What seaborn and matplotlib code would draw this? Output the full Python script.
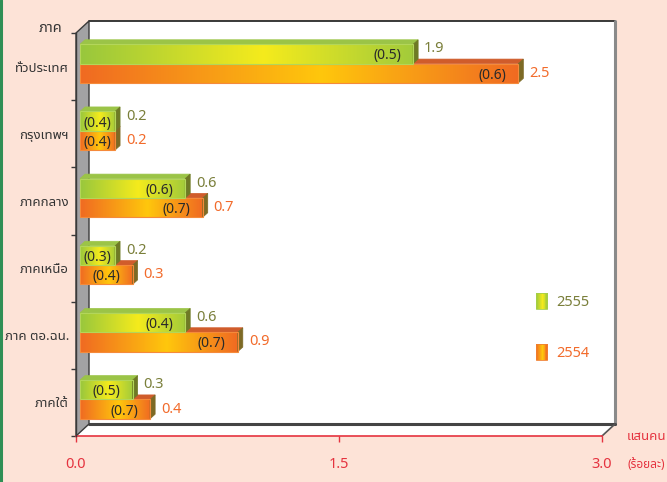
import numpy as np
import pandas as pd
import matplotlib
matplotlib.use("Agg")
import matplotlib.pyplot as plt
import seaborn as sns
from matplotlib import font_manager
from matplotlib.ft2font import FT2Font
from matplotlib.transforms import ScaledTranslation
from matplotlib.patches import Polygon, Rectangle, Patch
from matplotlib.lines import Line2D
from matplotlib.colors import LinearSegmentedColormap

# ---------------- data ----------------
regions = ["ทั่วประเทศ", "กรุงเทพฯ", "ภาคกลาง", "ภาคเหนือ", "ภาค ตอ.ฉน.", "ภาคใต้"]
years = ["2555", "2554"]
vals_2555 = [1.9, 0.2, 0.6, 0.2, 0.6, 0.3]
vals_2554 = [2.5, 0.2, 0.7, 0.3, 0.9, 0.4]
pct_2555 = ["(0.5)", "(0.4)", "(0.6)", "(0.3)", "(0.4)", "(0.5)"]
pct_2554 = ["(0.6)", "(0.4)", "(0.7)", "(0.4)", "(0.7)", "(0.7)"]
xticks = [0.0, 1.5, 3.0]
xtick_labels = ["0.0", "1.5", "3.0"]
y_header = "ภาค"
x_unit1 = "แสนคน"
x_unit2 = "(ร้อยละ)"


def find_thai_font():
    good = []
    seen = set()
    for f in font_manager.fontManager.ttflist:
        if f.name in seen:
            continue
        try:
            cm = FT2Font(f.fname).get_charmap()
        except Exception:
            continue
        if 0x0E20 in cm and 0x0E34 in cm:
            good.append(f.name)
            seen.add(f.name)
    prefs = ["Tahoma", "Noto Sans Thai", "Noto Sans Thai UI", "Loma", "Garuda", "Sarabun", "Kinnari", "Norasi"]
    for p in prefs:
        if p in good:
            return p
    return good[0] if good else None


sns.set_theme(style="white")
THAI = find_thai_font()
fam = [THAI, "DejaVu Sans"] if THAI else ["DejaVu Sans"]
plt.rcParams["font.family"] = fam

BG = "#FDE3D7"
RED = "#E5333F"
GREEN_TXT = "#7A7F3A"
ORANGE_TXT = "#F26B2B"
DARK = "#333333"

green_cmap = LinearSegmentedColormap.from_list("g", [(0, "#98C73D"), (0.55, "#F5EB1C"), (1.0, "#A2CB3B")])
orange_cmap = LinearSegmentedColormap.from_list("o", [(0, "#F06A22"), (0.55, "#FFC70C"), (1.0, "#F06A22")])
top_col = {"2555": "#9BC447", "2554": "#D05C2B"}
side_col = {"2555": "#6E7A25", "2554": "#7D6A25"}
edge_col = {"2555": "#B3D65A", "2554": "#F58A3A"}
cmaps = {"2555": green_cmap, "2554": orange_cmap}

# ---------------- layout ----------------
W, H = 667, 482
L, R, B, T = 76, 602, 436, 33
fig = plt.figure(figsize=(W / 100, H / 100), dpi=100, facecolor=BG)
ax = fig.add_axes([L / W, 1 - B / H, (R - L) / W, (B - T) / H])
ax.set_facecolor("none")

# border line at far left
fig.add_artist(Line2D([1.5 / W, 1.5 / W], [0, 1], transform=fig.transFigure, color="#2F8F55", lw=2.2))

# pseudo 3D walls
dx = 13 / (R - L)
dy = 12 / (B - T)
ax.add_patch(Rectangle((dx, dy), 1, 1, transform=ax.transAxes, facecolor="white", edgecolor="none",
                       zorder=0.2, clip_on=False))
ax.add_artist(Line2D([dx, 1 + dx], [1 + dy, 1 + dy], transform=ax.transAxes, color="#2A2A2A", lw=1.3,
                     zorder=0.3, clip_on=False))
ax.add_artist(Line2D([1 + dx, 1 + dx], [dy, 1 + dy], transform=ax.transAxes, color="#8A8A8A", lw=2.2,
                     zorder=0.3, clip_on=False))
ax.add_patch(Polygon([(0, 0), (1, 0), (1 + dx, dy), (dx, dy)], closed=True, transform=ax.transAxes,
                     facecolor="white", edgecolor="none", zorder=0.25, clip_on=False))
ax.add_artist(Line2D([dx, 1 + dx], [dy, dy], transform=ax.transAxes, color="#444444", lw=2.2,
                     zorder=0.35, clip_on=False))
ax.add_artist(Line2D([1, 1 + dx], [0, dy], transform=ax.transAxes, color="#555555", lw=1.2,
                     zorder=0.35, clip_on=False))
ax.add_patch(Polygon([(0, 0), (0, 1), (dx, 1 + dy), (dx, dy)], closed=True, transform=ax.transAxes,
                     facecolor="#A2A2A4", edgecolor="#3A3A3A", lw=1.0, zorder=0.4, clip_on=False))

# ---------------- bars ----------------
df = pd.DataFrame({
    "region": regions * 2,
    "year": [years[0]] * len(regions) + [years[1]] * len(regions),
    "value": vals_2555 + vals_2554,
})
sns.barplot(data=df, y="region", x="value", hue="year", hue_order=years, order=regions, orient="h",
            width=0.575, palette={"2555": "#C8DC2A", "2554": "#F59A20"}, ax=ax, legend=False,
            errorbar=None, saturation=1)

ax.set_xlim(0, 3)
ax.set_ylim(len(regions) - 0.5, -0.5)

bar_off = ScaledTranslation(4 / 100, 3 / 100, fig.dpi_scale_trans)
btrans = ax.transData + bar_off
sx = (R - L) / 3.0
sy = (B - T) / len(regions)
ddx = 5 / sx
ddy = -4.5 / sy

labels_pct = {"2555": pct_2555, "2554": pct_2554}
zbase = {"2554": 2, "2555": 3}
grad = np.linspace(0, 1, 256).reshape(1, -1)
for cont, yr in zip(ax.containers, years):
    z = zbase[yr]
    for i, bar in enumerate(cont):
        x0, y0 = bar.get_x(), bar.get_y()
        w, h = bar.get_width(), bar.get_height()
        bar.set_transform(btrans)
        bar.set_facecolor("none")
        bar.set_edgecolor(edge_col[yr])
        bar.set_linewidth(0.8)
        bar.set_zorder(z + 0.3)
        im = ax.imshow(grad, extent=[x0, x0 + w, y0 + h, y0], aspect="auto", cmap=cmaps[yr],
                       transform=btrans, zorder=z + 0.1, interpolation="bilinear")
        im.set_clip_path(bar)
        ax.add_patch(Polygon([(x0, y0), (x0 + w, y0), (x0 + w + ddx, y0 + ddy), (x0 + ddx, y0 + ddy)],
                             closed=True, transform=btrans, facecolor=top_col[yr], edgecolor=top_col[yr],
                             lw=0.5, zorder=z))
        ax.add_patch(Polygon([(x0 + w, y0), (x0 + w, y0 + h), (x0 + w + ddx, y0 + h + ddy),
                              (x0 + w + ddx, y0 + ddy)], closed=True, transform=btrans,
                             facecolor=side_col[yr], edgecolor=side_col[yr], lw=0.5, zorder=z + 0.2))
        yc = y0 + h / 2
        # outside value label
        up = 5 if yr == "2555" else 0
        ax.annotate(f"{w:.1f}", xy=(x0 + w, yc), xycoords=btrans, xytext=(11, up),
                    textcoords="offset pixels", ha="left", va="center", fontsize=10.5,
                    color=GREEN_TXT if yr == "2555" else ORANGE_TXT, zorder=6)
        # inside label
        wpx = w * sx
        gap = min(12, max(wpx - 31, 0))
        ax.annotate(labels_pct[yr][i], xy=(x0 + w, yc), xycoords=btrans, xytext=(-gap, -2),
                    textcoords="offset pixels", ha="right", va="center", fontsize=10,
                    color="#2A2A2A", zorder=6)

ax.set_xlim(0, 3)
ax.set_ylim(len(regions) - 0.5, -0.5)

# ---------------- axes styling ----------------
for s in ["top", "right"]:
    ax.spines[s].set_visible(False)
ax.spines["bottom"].set_color(RED)
ax.spines["bottom"].set_linewidth(1.2)
ax.spines["bottom"].set_zorder(1)
ax.spines["left"].set_color("#3A3A3A")
ax.spines["left"].set_linewidth(1.0)

ax.set_xticks(xticks)
ax.set_xticklabels(xtick_labels)
ax.tick_params(axis="x", which="major", direction="out", length=4, width=1, color=RED,
               labelcolor=RED, labelsize=10.5, pad=11, bottom=True)
ax.set_yticks(range(len(regions)))
ax.set_yticklabels(regions)
ax.set_yticks(np.arange(-0.5, len(regions), 1.0), minor=True)
ax.tick_params(axis="y", which="major", length=0, labelsize=9.5, labelcolor=DARK, pad=5)
ax.tick_params(axis="y", which="minor", length=3.5, width=1, color="#3A3A3A", left=True)
for t in ax.get_yticklabels():
    t.set_fontweight("medium")
ax.set_xlabel("")
ax.set_ylabel("")
ax.grid(False)

ax.annotate(y_header, xy=(0, 1), xycoords="axes fraction", xytext=(-14, 5), textcoords="offset pixels",
            ha="right", va="center", fontsize=10.5, color=DARK)
ax.annotate(x_unit1, xy=(1, 0), xycoords="axes fraction", xytext=(25, -1), textcoords="offset pixels",
            ha="left", va="center", fontsize=9.5, color=RED, annotation_clip=False)
ax.annotate(x_unit2, xy=(1, 0), xycoords="axes fraction", xytext=(25, -28), textcoords="offset pixels",
            ha="left", va="center", fontsize=8.5, color=RED, annotation_clip=False)


# ---------------- legend ----------------
class GradHandler:
    def __init__(self, cmap, edge):
        self.cmap = cmap
        self.edge = edge

    def legend_artist(self, legend, orig_handle, fontsize, handlebox):
        x0, y0 = -handlebox.xdescent, -handlebox.ydescent
        w, h = handlebox.width, handlebox.height
        n = 12
        for k in range(n):
            handlebox.add_artist(Rectangle((x0 + w * k / n, y0), w / n + 0.2, h,
                                           facecolor=self.cmap((k + 0.5) / n), edgecolor="none",
                                           transform=handlebox.get_transform()))
        r = Rectangle((x0, y0), w, h, facecolor="none", edgecolor=self.edge, lw=0.6,
                      transform=handlebox.get_transform())
        handlebox.add_artist(r)
        return r


hg = Patch(label=years[0])
ho = Patch(label=years[1])
leg = ax.legend(handles=[hg, ho], labels=years, frameon=False, fontsize=10.5,
                loc="upper left", bbox_to_anchor=(536 / W, 1 - 293 / H), bbox_transform=fig.transFigure,
                handlelength=0.78, handleheight=1.3, handletextpad=0.6, labelspacing=2.35,
                borderpad=0, borderaxespad=0,
                handler_map={hg: GradHandler(green_cmap, "#A6CF4A"), ho: GradHandler(orange_cmap, "#F08030")})
leg.get_texts()[0].set_color(GREEN_TXT)
leg.get_texts()[1].set_color(ORANGE_TXT)
leg.set_zorder(7)

fig.savefig("out.png", dpi=100, facecolor=BG)
